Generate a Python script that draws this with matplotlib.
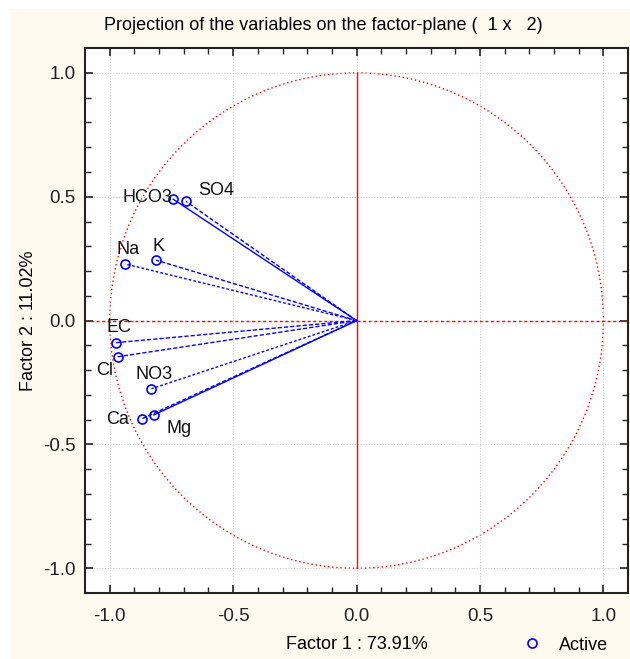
import numpy as np
import matplotlib.pyplot as plt
from matplotlib.patches import Rectangle, Circle

plt.rcParams['font.family'] = ['Liberation Sans', 'DejaVu Sans']
plt.rcParams['axes.unicode_minus'] = False

# variable coordinates on factor 1 x factor 2
names = ['HCO3', 'SO4', 'Na', 'K', 'EC', 'Cl', 'NO3', 'Ca', 'Mg']
f1 = [-0.743, -0.691, -0.939, -0.812, -0.974, -0.968, -0.831, -0.871, -0.822]
f2 = [0.490, 0.481, 0.229, 0.244, -0.089, -0.146, -0.275, -0.397, -0.381]
# label offsets in points
label_off = [(-18.5, 1.4), (22, 7.6), (2, 10), (1.5, 10), (2, 11), (-9.5, -9.6), (2, 10.6), (-17, -0.5), (18, -9.4)]
line_styles = ['-', (0, (3, 1.5)), (0, (2, 1.5)), (0, (3, 1.5)), (0, (3, 1.5)),
               (0, (3, 1.5)), (0, (2, 1.5)), (0, (3, 1.5)), '-']

fig = plt.figure(figsize=(6.3, 6.59), dpi=100)
fig.patches.append(Rectangle((10 / 630, 0), 1, 1 - 9 / 659, transform=fig.transFigure,
                             facecolor='#fffaf0', edgecolor='none', zorder=-10))
ax = fig.add_axes([0.135, 0.100, 0.862, 0.827])
ax.set_facecolor('white')

# unit circle and axes lines
ax.add_patch(Circle((0, 0), 1.0, fill=False, color='red', ls=(0, (1, 2)), lw=1))
ax.plot([0, 0], [-1, 1], color='red', lw=1)
ax.axhline(0, color='red', lw=1, ls=(0, (2, 2)))

for i in range(len(names)):
    ax.plot([0, f1[i]], [0, f2[i]], color='blue', lw=1, ls=line_styles[i])
    ax.annotate(names[i], (f1[i], f2[i]), xytext=label_off[i], textcoords='offset points',
                ha='center', va='center', fontsize=13, color='#111111')
ax.plot(f1, f2, 'o', mfc='none', mec='blue', ms=6.5, mew=1.2, ls='none', label='Active')

ax.set_xlim(-1.1, 1.1)
ax.set_ylim(-1.1, 1.1)
ticks = [-1.0, -0.5, 0.0, 0.5, 1.0]
ax.set_xticks(ticks)
ax.set_yticks(ticks)
ax.set_xticks(np.arange(-1.0, 1.01, 0.1), minor=True)
ax.set_yticks(np.arange(-1.0, 1.01, 0.1), minor=True)
ax.tick_params(which='both', direction='in', top=True, right=True, labelsize=13.5, colors='#222222')
ax.tick_params(which='major', length=6, width=1.2)
ax.tick_params(which='minor', length=4, width=1)
ax.tick_params(axis='x', pad=11)
ax.tick_params(axis='y', pad=7)
ax.grid(True, which='major', color='#cccccc', ls=(0, (1, 1.5)), lw=0.8)
for s in ax.spines.values():
    s.set_linewidth(1.5)
    s.set_color('#222222')

ax.set_xlabel('Factor 1 : 73.91%', fontsize=13, labelpad=8)
ax.set_ylabel('Factor 2 : 11.02%', fontsize=13, labelpad=4)
fig.text(0.513, 0.962, 'Projection of the variables on the factor-plane (  1 x   2)',
         ha='center', va='center', fontsize=13)
fig.legend(loc='center', bbox_to_anchor=(0.897, 0.021), frameon=False, fontsize=13,
           handlelength=1.0, handletextpad=1.0)

plt.savefig('out.png', dpi=100)
